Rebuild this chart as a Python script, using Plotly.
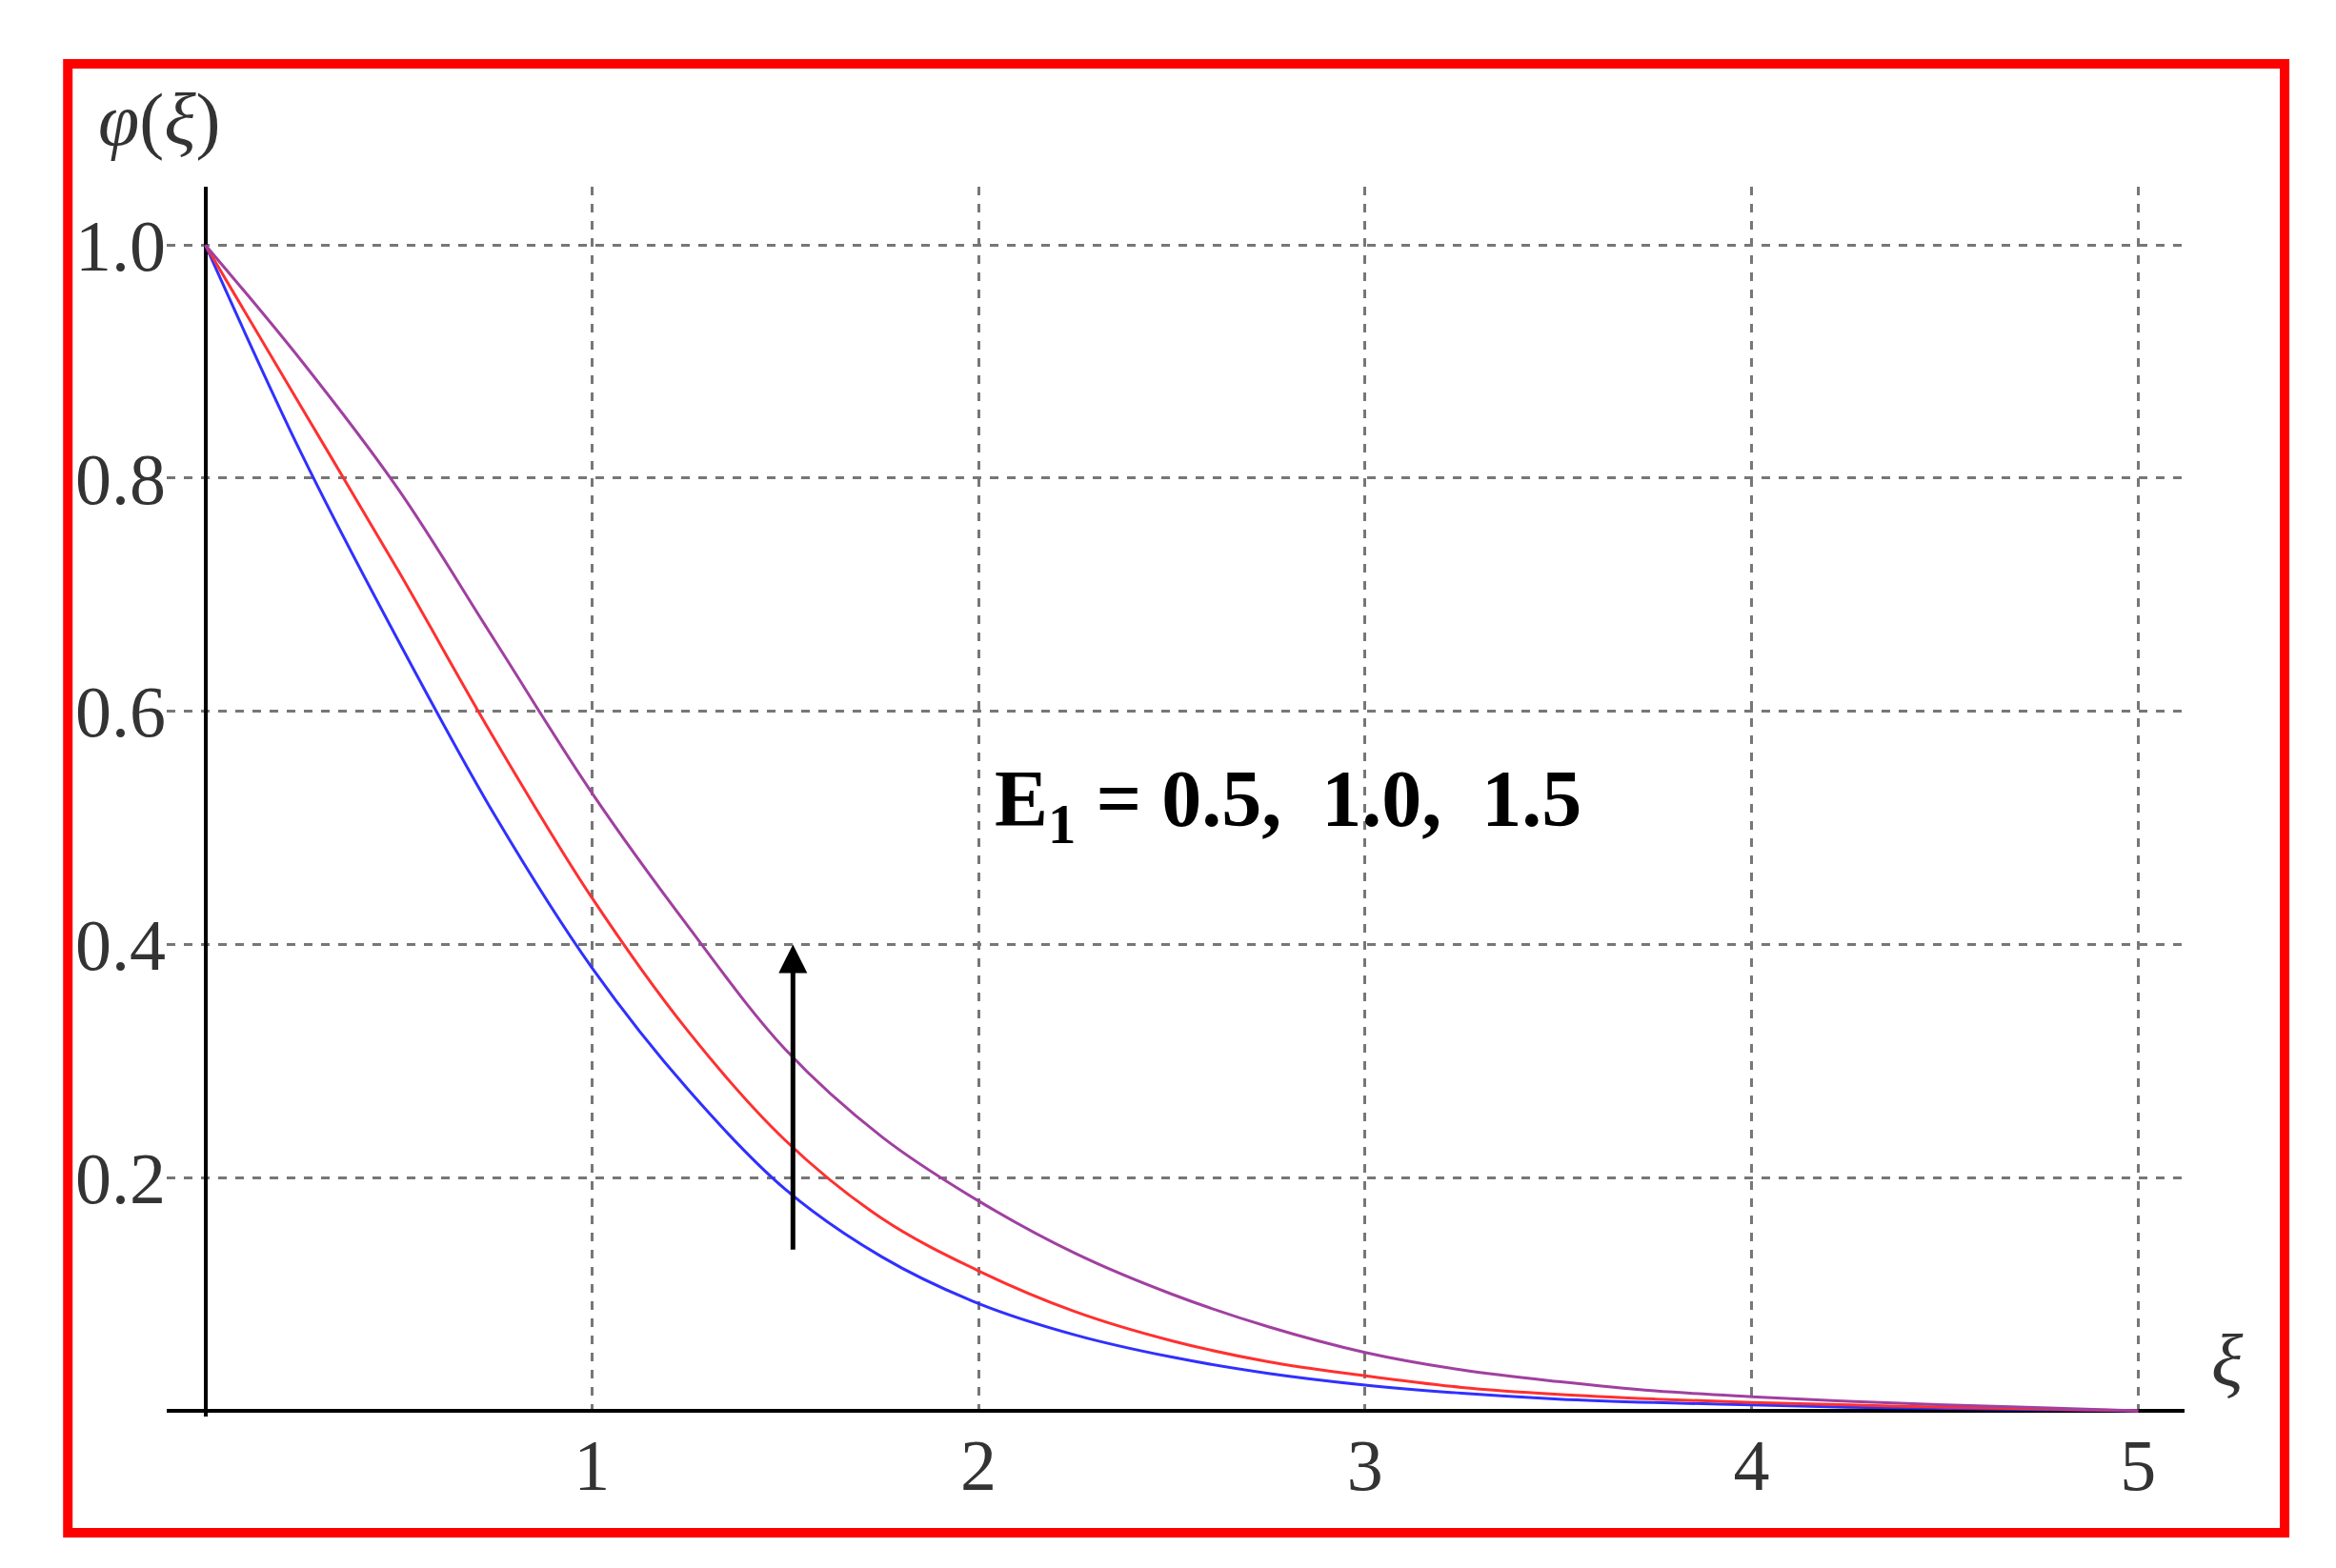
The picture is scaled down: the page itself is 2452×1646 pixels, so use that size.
import plotly.graph_objects as go

xi = [0, 0.25, 0.5, 0.75, 1, 1.25, 1.5, 1.75, 2, 2.25, 2.5, 2.75, 3, 3.25, 3.5, 3.75, 4, 4.25, 4.5, 4.75, 5]
phi_blue = [1, 0.82, 0.66, 0.51, 0.38, 0.275, 0.19, 0.132, 0.092, 0.065, 0.046, 0.032, 0.022,
            0.015, 0.01, 0.007, 0.005, 0.003, 0.002, 0.001, 0]
phi_red = [1, 0.86, 0.72, 0.575, 0.44, 0.325, 0.232, 0.165, 0.12, 0.085, 0.06, 0.042, 0.03,
           0.02, 0.014, 0.01, 0.007, 0.005, 0.003, 0.0015, 0]
phi_purple = [1, 0.9, 0.79, 0.66, 0.53, 0.415, 0.31, 0.235, 0.18, 0.135, 0.1, 0.072, 0.05,
              0.035, 0.025, 0.017, 0.012, 0.008, 0.005, 0.0025, 0]

serif = "Liberation Serif"

fig = go.Figure()
for ys, col in [(phi_blue, "#3030ff"), (phi_red, "#ff3030"), (phi_purple, "#a040a0")]:
    fig.add_trace(go.Scatter(x=xi, y=ys, mode="lines", line=dict(color=col, width=3, shape="spline"),
                             showlegend=False))

grid = dict(showgrid=True, gridcolor="#777", griddash="dash", gridwidth=3,
            zeroline=True, zerolinecolor="black", zerolinewidth=4,
            tickfont=dict(family=serif, size=76, color="#333"), ticks="")
fig.update_xaxes(range=[-0.1, 5.12], tickvals=[1, 2, 3, 4, 5], **grid)
fig.update_yaxes(range=[-0.005, 1.05], tickvals=[0.2, 0.4, 0.6, 0.8, 1.0],
                 ticktext=["0.2", "0.4", "0.6", "0.8", "1.0"], **grid)

# red frame
fig.add_shape(type="rect", xref="paper", yref="paper", x0=-0.049, x1=1.0496, y0=-0.0945, y1=1.1,
              line=dict(color="red", width=10))

fig.add_annotation(x=1.52, y=0.4, ax=1.52, ay=0.13, xref="x", yref="y", axref="x", ayref="y",
                   showarrow=True, arrowhead=2, arrowsize=1.2, arrowwidth=5, arrowcolor="black", text=" ")
fig.add_annotation(x=2.8, y=0.52, xref="x", yref="y", showarrow=False,
                   text="<b>E<sub>1</sub> = 0.5,  1.0,  1.5</b>",
                   font=dict(family=serif, size=84, color="black"))
fig.add_annotation(x=-0.035, y=1.09, xref="paper", yref="paper", showarrow=False,
                   text="<i>φ</i>(<i>ξ</i>)", font=dict(family=serif, size=78, color="#333"))
fig.add_annotation(x=1.03, y=0.01, xref="paper", yref="paper", showarrow=False,
                   text="<i>ξ</i>", font=dict(family=serif, size=78, color="#333"))

fig.update_layout(width=2452, height=1646, paper_bgcolor="white", plot_bgcolor="white",
                  margin=dict(l=167, r=167, t=188, b=167))
fig.write_html("out.html")
